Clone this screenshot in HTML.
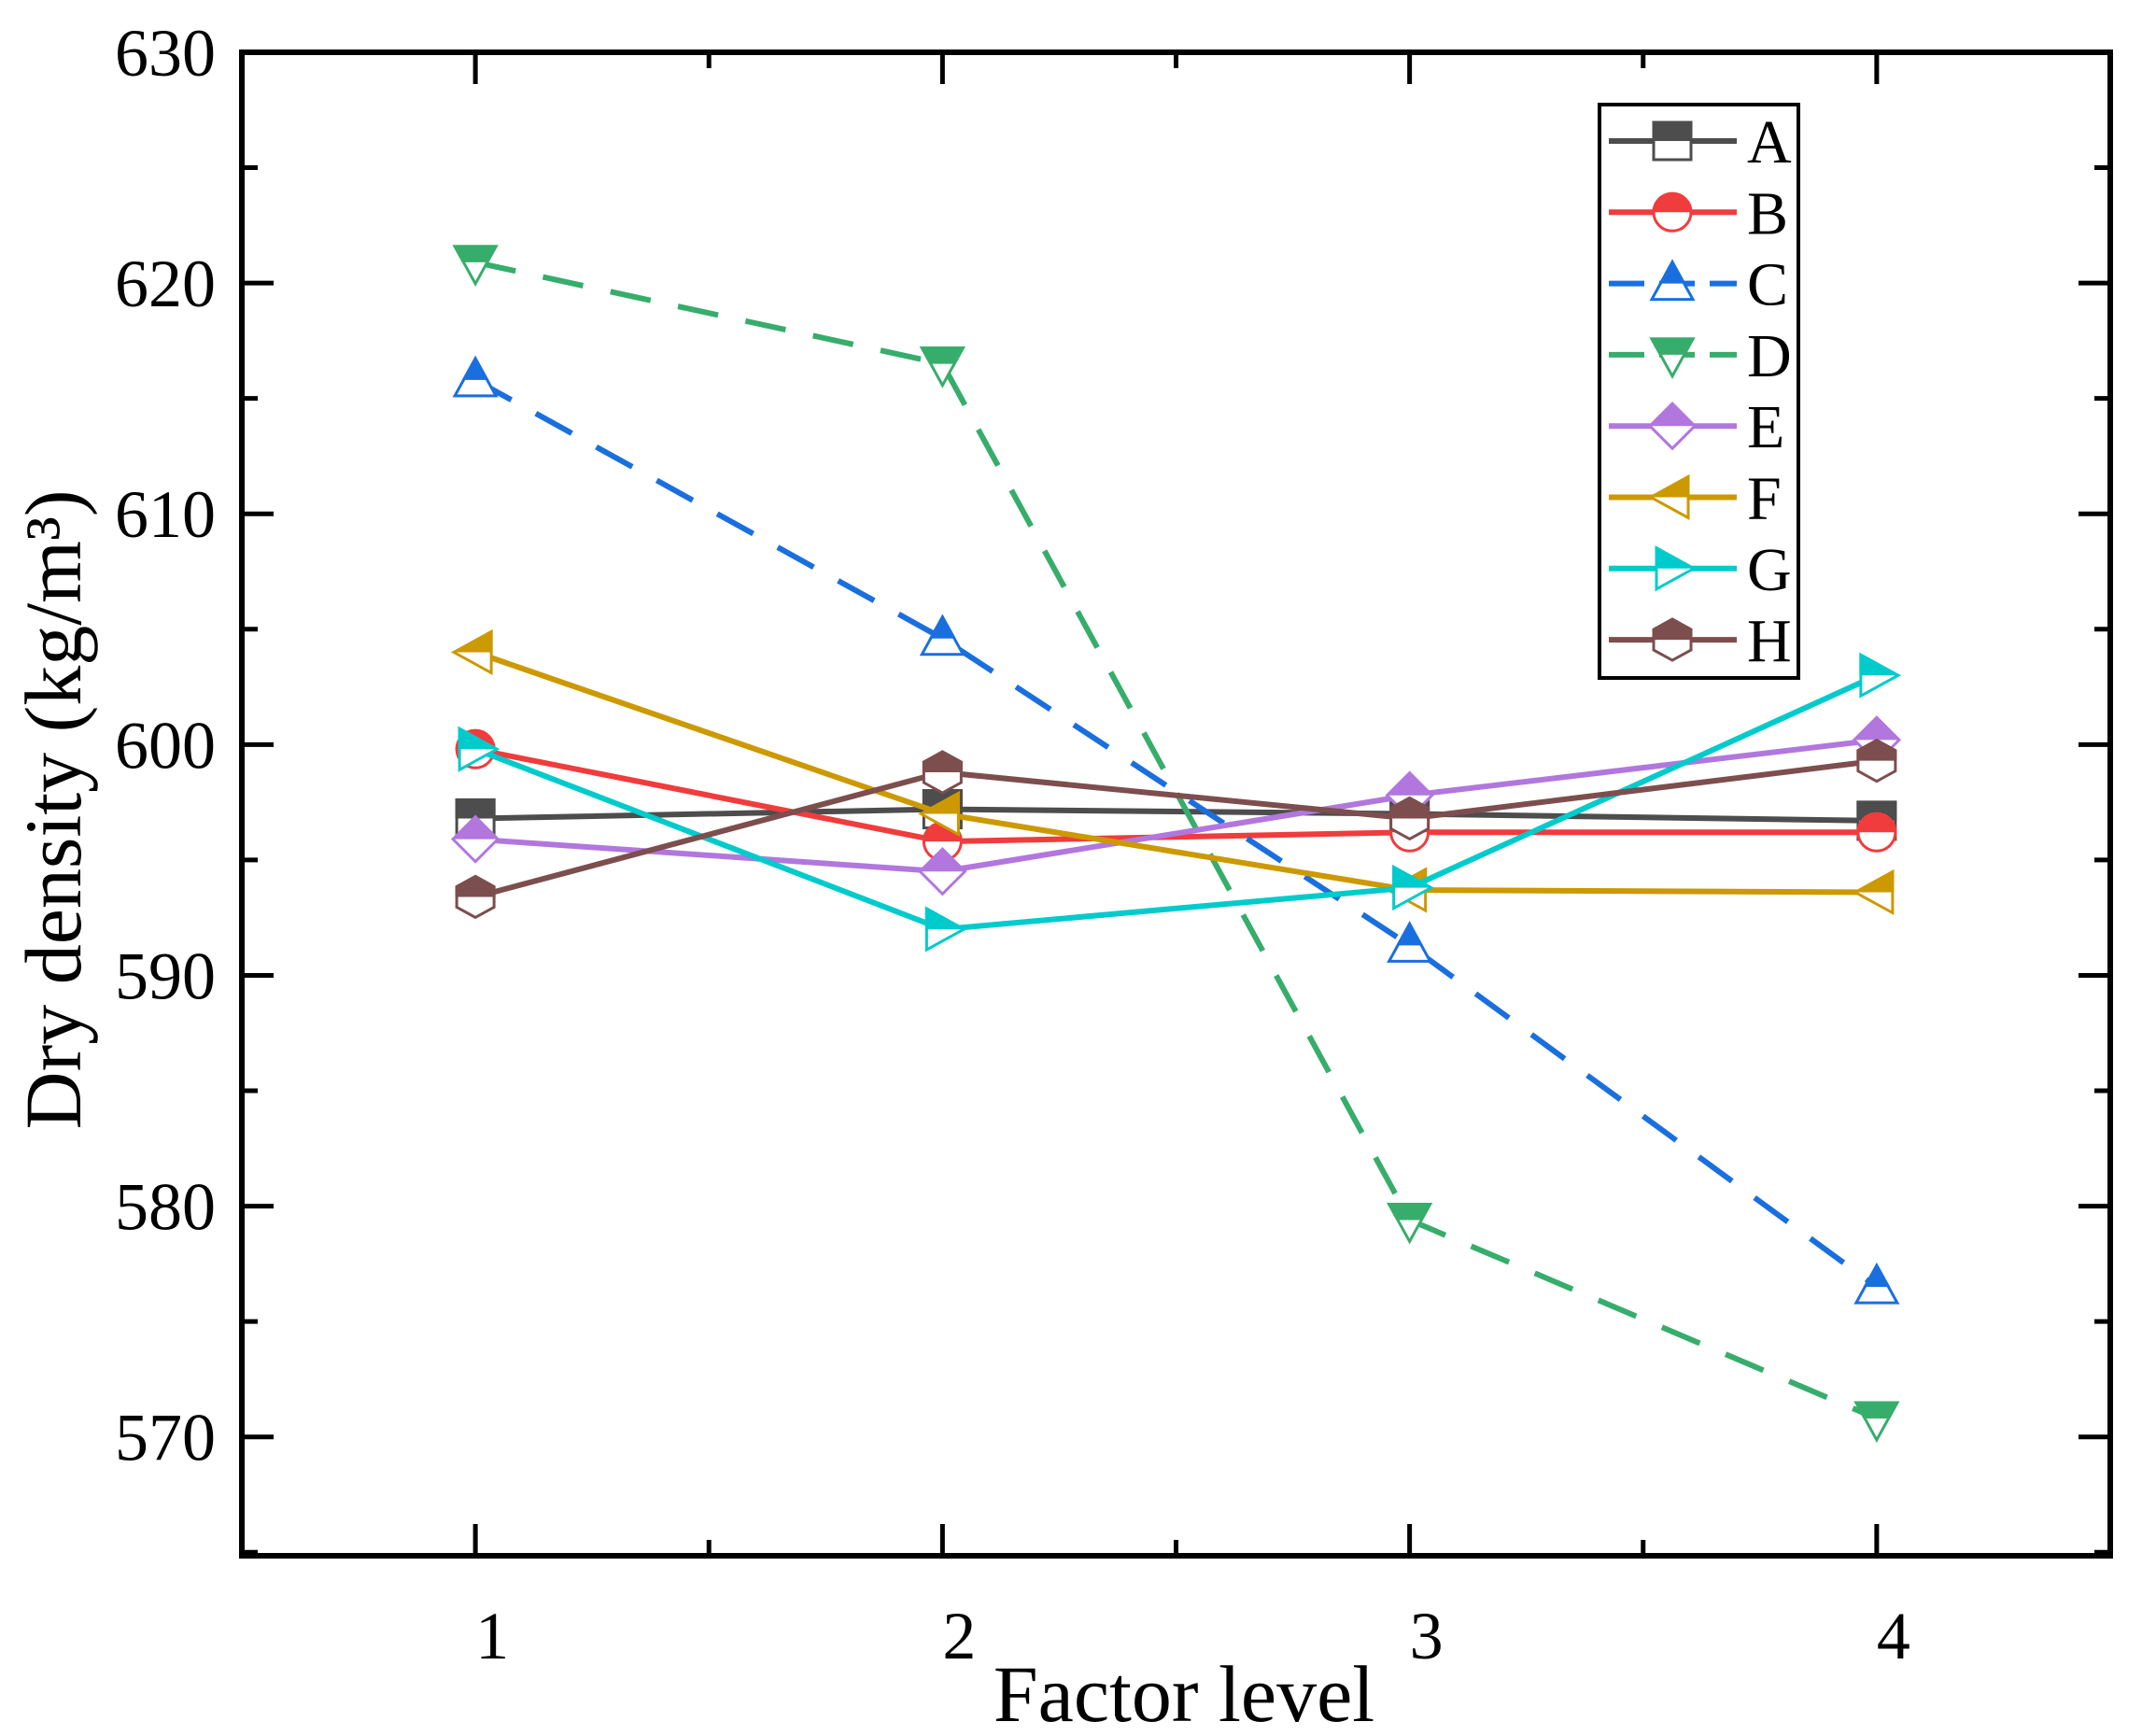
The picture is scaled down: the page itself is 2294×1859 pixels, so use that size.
<!DOCTYPE html>
<html><head><meta charset="utf-8"><style>
html,body{margin:0;padding:0;background:#fff}
svg{display:block}
text{font-family:"Liberation Serif",serif;fill:#000}
</style></head><body>
<svg id="chart" width="2294" height="1859" viewBox="0 0 2294 1859" xmlns="http://www.w3.org/2000/svg">
<defs><clipPath id="tophalf"><rect x="-40" y="-40" width="80" height="40"/></clipPath></defs>
<g id="grid-layer"></g>
<g id="series-layer"></g>
<g id="axes-layer"></g>
<g id="legend-layer"></g>
</svg>
<script>
const categories = [1, 2, 3, 4];
const seriesNames = ["A","B","C","D","E","F","G","H"];
const valuesA = [596.8, 597.2, 597.0, 596.7];
const valuesB = [599.8, 595.8, 596.2, 596.2];
const valuesC = [615.8, 604.6, 591.3, 576.5];
const valuesD = [620.9, 616.5, 579.4, 570.8];
const valuesE = [595.9, 594.5, 597.8, 600.2];
const valuesF = [604.0, 597.0, 593.7, 593.6];
const valuesG = [599.8, 592.0, 593.8, 603.0];
const valuesH = [593.4, 598.8, 596.8, 599.3];
const yTicks = [570, 580, 590, 600, 610, 620, 630];
const xTicks = [1, 2, 3, 4];

const NS = "http://www.w3.org/2000/svg";
const L = 259, R = 2260, T = 56, B = 1666;
const xMin = 0.5, xMax = 4.5, yMin = 564.85, yMax = 630;
function xs(v){ return L + (v - xMin) / (xMax - xMin) * (R - L); }
function ys(v){ return B - (v - yMin) / (yMax - yMin) * (B - T); }
function mk(tag, attrs, parent){ const e = document.createElementNS(NS, tag); for (const k in attrs) e.setAttribute(k, attrs[k]); parent.appendChild(e); return e; }

const styles = [
 {c:"#4d4d4d", m:"square", dash:null},
 {c:"#f03c3c", m:"circle", dash:null},
 {c:"#1a6fdf", m:"up", dash:"44 30"},
 {c:"#37ad6b", m:"down", dash:"44 30"},
 {c:"#b177de", m:"diamond", dash:null},
 {c:"#cc9900", m:"left", dash:null},
 {c:"#00cbcc", m:"right", dash:null},
 {c:"#7d4e4e", m:"hex", dash:null}
];
const allValues = [valuesA, valuesB, valuesC, valuesD, valuesE, valuesF, valuesG, valuesH];

function shapeEl(kind, parent, attrs){
  const s = 20;
  let e;
  if (kind === "square") e = mk("rect", Object.assign({x:-s, y:-s, width:2*s, height:2*s}, attrs), parent);
  else if (kind === "circle") e = mk("circle", Object.assign({cx:0, cy:0, r:s}, attrs), parent);
  else {
    let p;
    if (kind === "up") p = `0,${-s*1.15} ${s*1.1},${s*0.85} ${-s*1.1},${s*0.85}`;
    else if (kind === "down") p = `0,${s*1.15} ${s*1.1},${-s*0.85} ${-s*1.1},${-s*0.85}`;
    else if (kind === "diamond") p = `0,${-s*1.2} ${s*1.2},0 0,${s*1.2} ${-s*1.2},0`;
    else if (kind === "left") p = `${-s*1.15},0 ${s*0.85},${-s*1.1} ${s*0.85},${s*1.1}`;
    else if (kind === "right") p = `${s*1.15},0 ${-s*0.85},${-s*1.1} ${-s*0.85},${s*1.1}`;
    else p = `0,${-s*1.1} ${s},${-s*0.55} ${s},${s*0.55} 0,${s*1.1} ${-s},${s*0.55} ${-s},${-s*0.55}`;
    e = mk("polygon", Object.assign({points:p}, attrs), parent);
  }
  return e;
}
function marker(kind, color, x, y, parent, name){
  const g = mk("g", {transform:`translate(${x},${y})`}, parent);
  
  
  shapeEl(kind, g, {fill:"#fff", stroke:color, "stroke-width":3});
  shapeEl(kind, g, {fill:color, stroke:color, "stroke-width":3, "clip-path":"url(#tophalf)"});
}

const sl = document.getElementById("series-layer");
allValues.forEach((vals, i) => {
  const st = styles[i];
  const g = mk("g", {}, sl);
  
  
  const pts = vals.map((v, j) => xs(categories[j]) + "," + ys(v)).join(" ");
  const pl = mk("polyline", {points:pts, fill:"none", stroke:st.c, "stroke-width":6}, g);
  if (st.dash) pl.setAttribute("stroke-dasharray", st.dash);
  
  
  vals.forEach((v, j) => marker(st.m, st.c, xs(categories[j]), ys(v), g, 'point-' + seriesNames[i].toLowerCase() + '-' + categories[j]));
});

const ax = document.getElementById("axes-layer");
const frame = mk("rect", {x:L, y:T, width:R-L, height:B-T, fill:"none", stroke:"#000", "stroke-width":6}, ax);


for (let v = 565; v <= 630; v += 5) {
  const major = v % 10 === 0;
  const len = major ? 34 : 17;
  mk("line", {x1:L, x2:L+len, y1:ys(v), y2:ys(v), stroke:"#000", "stroke-width":5}, ax);
  mk("line", {x1:R, x2:R-len, y1:ys(v), y2:ys(v), stroke:"#000", "stroke-width":5}, ax);
}
for (let v = 1; v <= 4; v += 0.5) {
  const major = Number.isInteger(v);
  const len = major ? 34 : 17;
  mk("line", {x1:xs(v), x2:xs(v), y1:B, y2:B-len, stroke:"#000", "stroke-width":5}, ax);
  mk("line", {x1:xs(v), x2:xs(v), y1:T, y2:T+len, stroke:"#000", "stroke-width":5}, ax);
}
yTicks.forEach(v => {
  const t = mk("text", {x:231, y:ys(v)+25, "text-anchor":"end", "font-size":72}, ax);
  t.textContent = v;
  
  
});
xTicks.forEach(v => {
  const t = mk("text", {x:xs(v)+18, y:1776, "text-anchor":"middle", "font-size":72}, ax);
  t.textContent = v;
  
  
});
const xt = mk("text", {x:1268, y:1843, "text-anchor":"middle", "font-size":86}, ax);
xt.textContent = "Factor level";


const yt = mk("text", {x:0, y:0, "text-anchor":"middle", "font-size":86, transform:"translate(86,867) rotate(-90)"}, ax);
yt.textContent = "Dry density (kg/m³)";



const lg = document.getElementById("legend-layer");
const box = mk("rect", {x:1713, y:112, width:213, height:614, fill:"#fff", stroke:"#000", "stroke-width":4}, lg);


seriesNames.forEach((n, i) => {
  const st = styles[i];
  const y = 151 + i * 76.3;
  const g = mk("g", {}, lg);
  
  
  const ln = mk("line", {x1:1723, x2:1860, y1:y, y2:y, stroke:st.c, "stroke-width":6}, g);
  if (st.dash) ln.setAttribute("stroke-dasharray", "38 16");
  marker(st.m, st.c, 1791, y, g, 'legend-marker-' + n.toLowerCase());
  const t = mk("text", {x:1871, y:y+23, "font-size":66}, g);
  t.textContent = n;
  
  
});
</script>
</body></html>
